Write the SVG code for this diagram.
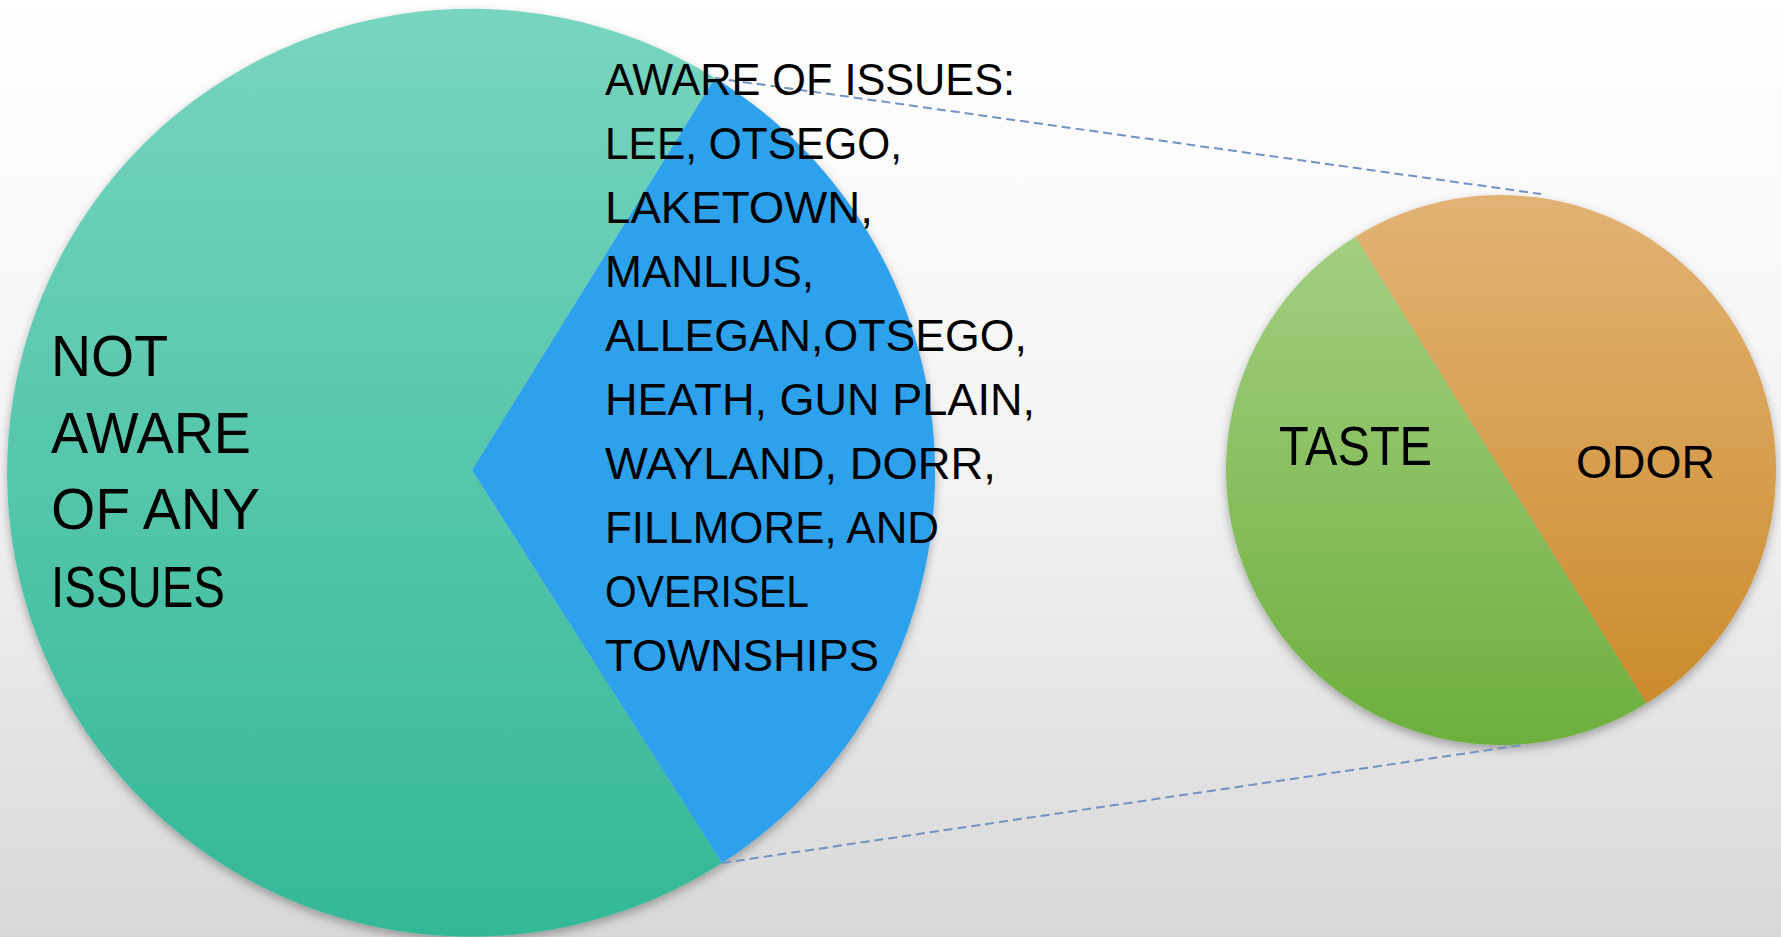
<svg xmlns="http://www.w3.org/2000/svg" width="1781" height="937" viewBox="0 0 1781 937">
  <defs>
    <linearGradient id="bg" x1="0" y1="0" x2="0" y2="1">
      <stop offset="0" stop-color="#ffffff"/>
      <stop offset="0.5" stop-color="#f3f3f3"/>
      <stop offset="1" stop-color="#d8d8d8"/>
    </linearGradient>
    <linearGradient id="gTeal" gradientUnits="userSpaceOnUse" x1="0" y1="5" x2="0" y2="935">
      <stop offset="0" stop-color="#78d5c0"/>
      <stop offset="1" stop-color="#33b896"/>
    </linearGradient>
    <linearGradient id="gGreen" gradientUnits="userSpaceOnUse" x1="0" y1="195" x2="0" y2="745">
      <stop offset="0" stop-color="#a8d186"/>
      <stop offset="1" stop-color="#6daf3d"/>
    </linearGradient>
    <linearGradient id="gOrange" gradientUnits="userSpaceOnUse" x1="0" y1="195" x2="0" y2="745">
      <stop offset="0" stop-color="#e2b375"/>
      <stop offset="1" stop-color="#ca8826"/>
    </linearGradient>
    <filter id="shadow" x="-10%" y="-10%" width="120%" height="125%">
      <feDropShadow dx="0" dy="4" stdDeviation="5" flood-color="#000000" flood-opacity="0.3"/>
    </filter>
  </defs>
  <style>
    .lbl { font-family: "Liberation Sans", Arial, sans-serif; fill: #000000; }
    .list { font-size: 45px; }
    .big { font-size: 58px; }
    .conn { fill: none; stroke: #7192c4; stroke-width: 2; stroke-dasharray: 9 5; }
  </style>
  <rect x="0" y="0" width="1781" height="937" fill="url(#bg)"/>

  <g id="pie-main" filter="url(#shadow)">
    <path id="slice-not-aware" d="M472,470 L715,78 A464,464 0 1,0 722,863 Z" fill="url(#gTeal)"/>
    <path id="slice-aware" d="M472,470 L715,78 A464,464 0 0,1 722,863 Z" fill="#2fa1ec"/>
  </g>

  <g id="pie-detail" filter="url(#shadow)">
    <path id="slice-taste" d="M1355.4,236.7 A275,275 0 0,0 1646.6,703.3 Z" fill="url(#gGreen)"/>
    <path id="slice-odor" d="M1355.4,236.7 A275,275 0 0,1 1646.6,703.3 Z" fill="url(#gOrange)"/>
  </g>

  <g id="connectors">
    <line class="conn" x1="715" y1="78" x2="1541" y2="194"/>
    <line class="conn" x1="722" y1="863" x2="1522" y2="745"/>
  </g>

  <g id="label-not-aware" class="lbl big">
    <text x="51" y="376" textLength="117" lengthAdjust="spacingAndGlyphs">NOT</text>
    <text x="51" y="453" textLength="200" lengthAdjust="spacingAndGlyphs">AWARE</text>
    <text x="51" y="529" textLength="209" lengthAdjust="spacingAndGlyphs">OF ANY</text>
    <text x="51" y="607" textLength="174" lengthAdjust="spacingAndGlyphs">ISSUES</text>
  </g>

  <g id="label-aware" class="lbl list">
    <text x="605" y="95" textLength="410" lengthAdjust="spacingAndGlyphs">AWARE OF ISSUES:</text>
    <text x="605" y="159" textLength="297" lengthAdjust="spacingAndGlyphs">LEE, OTSEGO,</text>
    <text x="605" y="223" textLength="268" lengthAdjust="spacingAndGlyphs">LAKETOWN,</text>
    <text x="605" y="287" textLength="209" lengthAdjust="spacingAndGlyphs">MANLIUS,</text>
    <text x="605" y="351" textLength="422" lengthAdjust="spacingAndGlyphs">ALLEGAN,OTSEGO,</text>
    <text x="605" y="415" textLength="430" lengthAdjust="spacingAndGlyphs">HEATH, GUN PLAIN,</text>
    <text x="605" y="479" textLength="391" lengthAdjust="spacingAndGlyphs">WAYLAND, DORR,</text>
    <text x="605" y="543" textLength="334" lengthAdjust="spacingAndGlyphs">FILLMORE, AND</text>
    <text x="605" y="607" textLength="204" lengthAdjust="spacingAndGlyphs">OVERISEL</text>
    <text x="605" y="671" textLength="274" lengthAdjust="spacingAndGlyphs">TOWNSHIPS</text>
  </g>

  <g id="label-taste" class="lbl">
    <text x="1279" y="465" font-size="55" textLength="153" lengthAdjust="spacingAndGlyphs">TASTE</text>
  </g>
  <g id="label-odor" class="lbl">
    <text x="1576" y="478" font-size="47" textLength="139" lengthAdjust="spacingAndGlyphs">ODOR</text>
  </g>
</svg>
